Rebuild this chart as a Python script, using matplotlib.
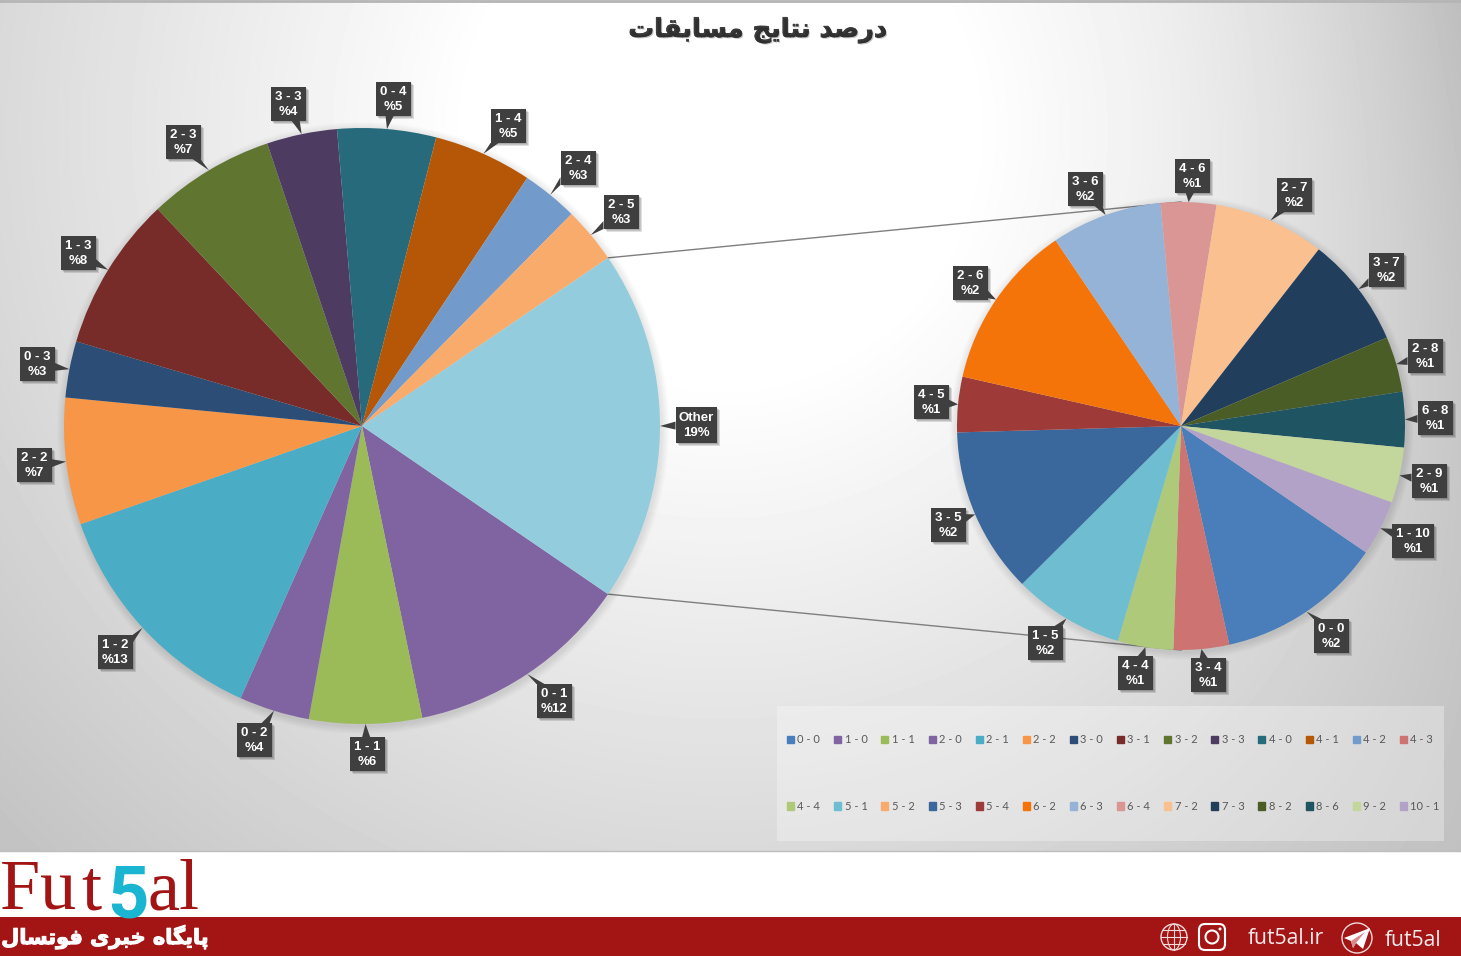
import numpy as np
import matplotlib
matplotlib.use("Agg")
import matplotlib.pyplot as plt
import matplotlib.patheffects as pe
from matplotlib.patches import Rectangle, Polygon, Circle, Ellipse, FancyBboxPatch, Patch

W = 1461
H = 956

# legend order (two rows of 14)
legend_cats = ["0 - 0", "1 - 0", "1 - 1", "2 - 0", "2 - 1", "2 - 2", "3 - 0", "3 - 1", "3 - 2", "3 - 3", "4 - 0", "4 - 1", "4 - 2", "4 - 3",
               "4 - 4", "5 - 1", "5 - 2", "5 - 3", "5 - 4", "6 - 2", "6 - 3", "6 - 4", "7 - 2", "7 - 3", "8 - 2", "8 - 6", "9 - 2", "10 - 1"]
legend_colors = ["#4A7EBB", "#8064A2", "#9BBB59", "#8064A2", "#4BACC6", "#F79646", "#2C4D75", "#772C2A", "#5F7530", "#4D3B62", "#276A7C", "#B65708", "#729ACA", "#CD7371",
                 "#AFC97A", "#6FBDD1", "#F9AB6B", "#3A679C", "#9E3B38", "#F57409", "#95B3D7", "#D99694", "#FAC090", "#223E5D", "#4B5D26", "#1F5462", "#C3D69B", "#B3A2C7"]

# big pie, clockwise, number of matches
main_cats = ["1 - 0", "1 - 1", "2 - 0", "2 - 1", "2 - 2", "3 - 0", "3 - 1", "3 - 2", "3 - 3", "4 - 0", "4 - 1", "4 - 2", "5 - 2"]
main_values = [16, 8, 5, 17, 9, 4, 11, 9, 5, 7, 7, 4, 4]
other_value = 25
other_color = "#93CDDD"

# small pie (break down of Other)
small_cats = ["0 - 0", "4 - 3", "4 - 4", "5 - 1", "5 - 3", "5 - 4", "6 - 2", "6 - 3", "6 - 4", "7 - 2", "7 - 3", "8 - 2", "8 - 6", "9 - 2", "10 - 1"]
small_values = [3, 1, 1, 2, 3, 1, 3, 2, 1, 2, 2, 1, 1, 1, 1]

# where the label boxes sit, in pixels
main_label_pos = [(554, 701), (367, 754), (254, 740), (115, 652), (34, 465), (37, 364), (78, 253), (183, 142), (288, 104), (393, 99), (508, 126), (578, 168), (621, 212)]
other_label_pos = (696, 425)
small_label_pos = [(1331, 636), (1208, 675), (1135, 673), (1045, 643), (948, 525), (931, 402), (970, 283), (1085, 189), (1192, 176), (1294, 195), (1386, 270), (1425, 356), (1435, 418), (1429, 481), (1413, 541)]

title_text = "درصد نتایج مسابقات"
footer_text = "پایگاه خبری فوتسال"

# matplotlib does not join arabic letters, so pick the presentation forms by hand
forms = {"ا": (0xFE8D, 0xFE8E), "ب": (0xFE8F, 0xFE90, 0xFE91, 0xFE92), "پ": (0xFB56, 0xFB57, 0xFB58, 0xFB59),
         "ت": (0xFE95, 0xFE96, 0xFE97, 0xFE98), "ج": (0xFE9D, 0xFE9E, 0xFE9F, 0xFEA0), "خ": (0xFEA5, 0xFEA6, 0xFEA7, 0xFEA8),
         "د": (0xFEA9, 0xFEAA), "ر": (0xFEAD, 0xFEAE), "س": (0xFEB1, 0xFEB2, 0xFEB3, 0xFEB4), "ص": (0xFEB9, 0xFEBA, 0xFEBB, 0xFEBC),
         "ف": (0xFED1, 0xFED2, 0xFED3, 0xFED4), "ق": (0xFED5, 0xFED6, 0xFED7, 0xFED8), "گ": (0xFB92, 0xFB93, 0xFB94, 0xFB95),
         "ل": (0xFEDD, 0xFEDE, 0xFEDF, 0xFEE0), "م": (0xFEE1, 0xFEE2, 0xFEE3, 0xFEE4), "ن": (0xFEE5, 0xFEE6, 0xFEE7, 0xFEE8),
         "ه": (0xFEE9, 0xFEEA, 0xFEEB, 0xFEEC), "و": (0xFEED, 0xFEEE), "ی": (0xFBFC, 0xFBFD, 0xFBFE, 0xFBFF)}


def shape(text):
    out = []
    for i, ch in enumerate(text):
        if ch not in forms:
            out.append(ch)
            continue
        prev = text[i - 1] if i > 0 else " "
        nxt = text[i + 1] if i < len(text) - 1 else " "
        join_prev = prev in forms and len(forms[prev]) == 4
        join_next = nxt in forms and len(forms[ch]) == 4
        if join_prev and join_next:
            code = forms[ch][3]
        elif join_prev:
            code = forms[ch][1]
        elif join_next:
            code = forms[ch][2]
        else:
            code = forms[ch][0]
        out.append(chr(code))
    return "".join(out[::-1])


def flip(cat):
    a, b = cat.split(" - ")
    return b + " - " + a


fig = plt.figure(figsize=(W / 100, H / 100), dpi=100, facecolor="white")

bg = fig.add_axes([0, 0, 1, 1])
bg.set_xlim(0, W)
bg.set_ylim(H, 0)
bg.axis("off")

# grey background, white around the top middle, right top corner a bit darker
yy, xx = np.mgrid[0:851, 0:W]
dist = np.sqrt((xx - 720.0) ** 2 + (yy - 130.0) ** 2)
shade = 1.0 - 0.24 * np.clip(dist - 250, 0, None) / 770.0
shade = shade - 0.1 * np.clip((xx - 1100) / 361.0, 0, 1) ** 2 * (1 - yy / 850.0)
bg.imshow(shade, cmap="gray", vmin=0, vmax=1, extent=(0, W, 851, 0), aspect="auto", zorder=0)
bg.set_xlim(0, W)
bg.set_ylim(H, 0)
bg.plot([0, W], [1, 1], color="#b5b5b5", lw=2, zorder=1)
bg.plot([0, W], [851, 851], color="#bdbdbd", lw=1, zorder=1)

main_c = (362, 426)
main_r = 298
small_c = (1181, 426)
small_r = 224

# connector lines between the two pies
total = sum(main_values) + other_value
start = -180.0 * other_value / total
a = np.radians(start)
for sign in [1, -1]:
    x0 = main_c[0] + main_r * np.cos(a)
    y0 = main_c[1] + sign * main_r * np.sin(a)
    bg.plot([x0, small_c[0]], [y0, small_c[1] - sign * small_r], color="#7f7f7f", lw=1, zorder=2)

# soft shadow under pies
for c, r in [(main_c, main_r), (small_c, small_r)]:
    for k in range(8):
        bg.add_patch(Circle((c[0] + 1, c[1] + 2), r + 8 - k, color="black", alpha=0.012, lw=0, zorder=3))


def pie_axes(c, r):
    ax = fig.add_axes([(c[0] - r) / W, 1 - (c[1] + r) / H, 2 * r / W, 2 * r / H])
    ax.patch.set_alpha(0)
    return ax


color_of = dict(zip(legend_cats, legend_colors))

ax1 = pie_axes(main_c, main_r)
ax1.pie(main_values + [other_value], colors=[color_of[c] for c in main_cats] + [other_color],
        startangle=start, counterclock=False, radius=1, wedgeprops={"linewidth": 0})
ax1.set_xlim(-1, 1)
ax1.set_ylim(-1, 1)

ax2 = pie_axes(small_c, small_r)
ax2.pie(small_values, colors=[color_of[c] for c in small_cats],
        startangle=start, counterclock=False, radius=1, wedgeprops={"linewidth": 0})
ax2.set_xlim(-1, 1)
ax2.set_ylim(-1, 1)

top = fig.add_axes([0, 0, 1, 1])
top.set_xlim(0, W)
top.set_ylim(H, 0)
top.axis("off")
top.patch.set_alpha(0)


def callout(center, pie_c, pie_r, mid, text, bw=35, bh=34):
    # mid is the wedge middle, clockwise from north
    tx = pie_c[0] + pie_r * np.sin(np.radians(mid))
    ty = pie_c[1] - pie_r * np.cos(np.radians(mid))
    x, y = center
    dx, dy = tx - x, ty - y
    # pointer comes out of the side that faces the pie
    if abs(dx) / bw > abs(dy) / bh:
        side = x + np.sign(dx) * bw / 2
        py = np.clip(y + dy * (bw / 2) / abs(dx), y - bh / 2 + 4, y + bh / 2 - 4)
        tri = [(tx, ty), (side, py - 4), (side, py + 4)]
    else:
        side = y + np.sign(dy) * bh / 2
        px = np.clip(x + dx * (bh / 2) / abs(dy), x - bw / 2 + 4, x + bw / 2 - 4)
        tri = [(tx, ty), (px - 4, side), (px + 4, side)]
    for k in range(3):
        top.add_patch(Rectangle((x - bw / 2 + 1 + k, y - bh / 2 + 1 + k), bw, bh, color="black", alpha=0.12, lw=0, zorder=4))
    top.add_patch(Polygon(tri, closed=True, color="#3F3F3F", lw=0, zorder=5))
    top.add_patch(Rectangle((x - bw / 2, y - bh / 2), bw, bh, color="#3F3F3F", lw=0, zorder=5))
    top.text(x, y + 0.5, text, color="white", fontsize=9.5, fontweight="bold", family="Liberation Sans",
             ha="center", va="center", linespacing=1.35, zorder=6)


ang = 360.0 / total
pos = -start + 90
for cat, val, p in zip(main_cats, main_values, main_label_pos):
    mid = pos + val * ang / 2
    pct = round(100.0 * val / total)
    callout(p, main_c, main_r, mid, flip(cat) + "\n%" + str(pct))
    pos += val * ang
callout(other_label_pos, main_c, main_r, 90, "Other\n" + str(round(100.0 * other_value / total)) + "%", bw=41, bh=36)

ang2 = 360.0 / sum(small_values)
pos = -start + 90
for cat, val, p in zip(small_cats, small_values, small_label_pos):
    mid = pos + val * ang2 / 2
    pct = round(100.0 * val / total)
    bw = 42 if cat == "10 - 1" else 35
    callout(p, small_c, small_r, mid, flip(cat) + "\n%" + str(pct), bw=bw)
    pos += val * ang2

# title
top.text(758, 30, shape(title_text), fontsize=18.5, fontweight="bold", family="DejaVu Sans", color="#3A3A3A", ha="center", va="center",
         path_effects=[pe.withStroke(linewidth=0.6, foreground="#3A3A3A"), pe.SimplePatchShadow(offset=(1, -1), alpha=0.25)])

# legend box + legend
top.add_patch(Rectangle((777, 706), 667, 135, color="white", alpha=0.3, lw=0, zorder=1))
handles = []
labels = []
for i in range(14):
    for j in [i, i + 14]:
        handles.append(Patch(color=legend_colors[j]))
        labels.append(legend_cats[j])
leg = top.legend(handles, labels, ncol=14, loc="center left", bbox_to_anchor=(777, 773), bbox_transform=top.transData,
                 frameon=False, prop={"family": "Lato", "size": 8}, labelcolor="#595959",
                 handlelength=0.63, handleheight=0.63, handletextpad=0.3, columnspacing=1.26, labelspacing=5.0)

# footer
top.add_patch(Rectangle((0, 917), W, 39, color="#A31515", lw=0))
logo_red = "#A31515"
for ch, x in zip("Fut", [0, 40, 81]):
    top.text(x, 909, ch, family="Liberation Serif", fontsize=52, color=logo_red, ha="left", va="baseline")
for ch, x in zip("al", [148, 179]):
    top.text(x, 909, ch, family="Liberation Serif", fontsize=52, color=logo_red, ha="left", va="baseline")
top.text(107, 918, "5", family="Roboto", fontsize=52, fontweight="bold", color="#1AB5D0", ha="left", va="baseline", zorder=3)

top.text(105, 937, shape(footer_text), family="DejaVu Sans", fontweight="bold", fontsize=15, color="white", ha="center", va="center", zorder=3,
         path_effects=[pe.withStroke(linewidth=0.8, foreground="white")])

top.text(1248, 938, "fut5al.ir", family="Open Sans", fontsize=15.2, color="#F7EBEB", ha="left", va="center", zorder=3)
top.text(1385, 941, "fut5al", family="Open Sans", fontsize=15.2, color="#F7EBEB", ha="left", va="center", zorder=3)

icon = "#F0DADA"
# globe
top.add_patch(Circle((1174, 937), 13, fill=False, ec=icon, lw=1, zorder=3))
top.add_patch(Ellipse((1174, 937), 13, 26, fill=False, ec=icon, lw=0.8, zorder=3))
top.plot([1161, 1187], [937, 937], color=icon, lw=0.8, zorder=3)
top.plot([1163, 1185], [930, 930], color=icon, lw=0.8, zorder=3)
top.plot([1163, 1185], [944, 944], color=icon, lw=0.8, zorder=3)
top.plot([1174, 1174], [924, 950], color=icon, lw=0.8, zorder=3)
# instagram
top.add_patch(FancyBboxPatch((1199, 924), 26, 26, boxstyle="round,pad=0,rounding_size=6", fill=False, ec="white", lw=1.5, zorder=3))
top.add_patch(Circle((1212, 937), 6.5, fill=False, ec="white", lw=1.5, zorder=3))
top.add_patch(Circle((1220, 929), 1.5, color="white", lw=0, zorder=3))
# telegram
top.add_patch(Circle((1357, 938), 15, fill=False, ec=icon, lw=1, zorder=3))
top.add_patch(Polygon([(1344, 938), (1370, 928), (1363, 949), (1356, 943), (1353, 948), (1351, 941)], closed=True, color="white", lw=0, zorder=3))
top.add_patch(Polygon([(1351, 941), (1365, 932), (1356, 943), (1353, 948)], closed=True, color="#D88A8A", lw=0, zorder=3))

fig.savefig("out.png", dpi=100)
